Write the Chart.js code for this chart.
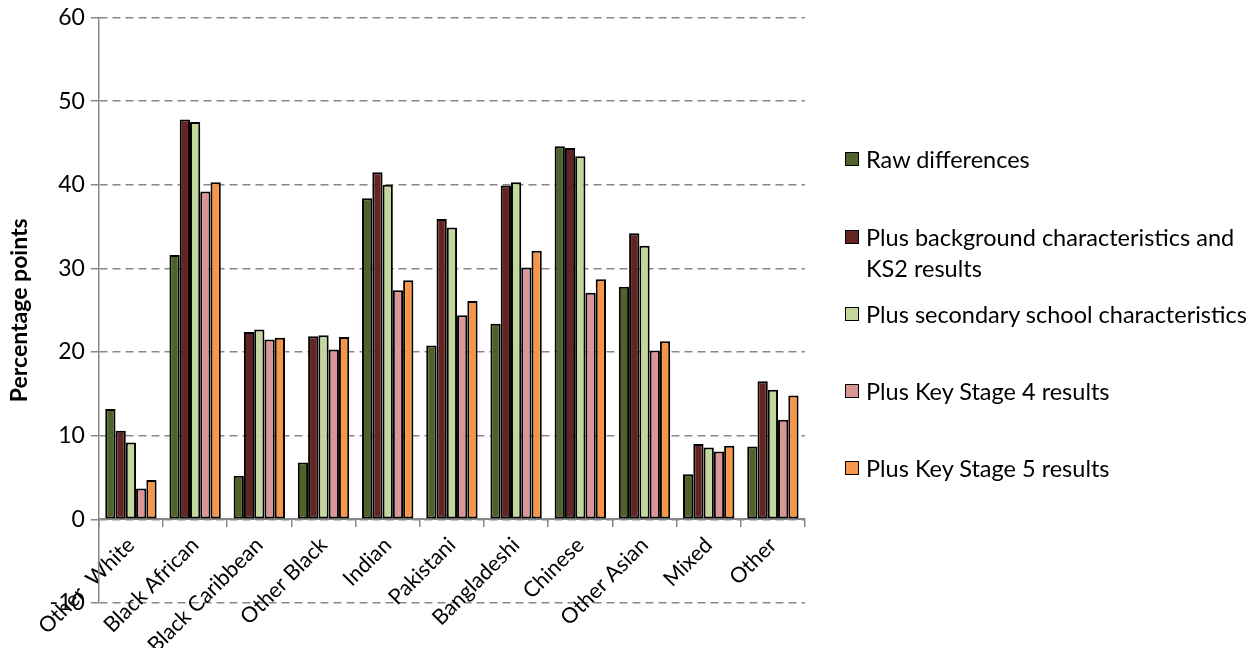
<!DOCTYPE html>
<html>
<head>
<meta charset="utf-8">
<script src="https://cdn.jsdelivr.net/npm/chart.js@4.4.1/dist/chart.umd.min.js"></script>
<style>
  body { margin: 0; background: #fff; }
  #wrap { position: relative; width: 1256px; height: 648px; }
  #legend { position: absolute; left: 845px; top: 0; font-family: Lato, sans-serif; font-size: 23.5px; color: #000; }
  .item { position: absolute; left: 0; white-space: nowrap; line-height: 31px; }
  .box { position: absolute; left: 0; width: 12px; height: 12px; border: 1.5px solid #000; }
  .txt { position: absolute; left: 21px; }
</style>
</head>
<body>
<div id="wrap">
  <canvas id="myChart" width="1256" height="648"></canvas>
  <div id="legend"></div>
</div>
<script>
const categories = ['Other  White', 'Black African', 'Black Caribbean', 'Other Black', 'Indian',
  'Pakistani', 'Bangladeshi', 'Chinese', 'Other Asian', 'Mixed', 'Other'];

const rawDifferences = [13.2, 31.6, 5.2, 6.8, 38.4, 20.8, 23.4, 44.6, 27.8, 5.4, 8.7];
const plusBackground = [10.6, 47.8, 22.4, 21.9, 41.5, 35.9, 39.9, 44.4, 34.2, 9.0, 16.5];
const plusSecondary = [9.2, 47.5, 22.7, 22.0, 40.0, 34.9, 40.3, 43.4, 32.7, 8.6, 15.5];
const plusKS4 = [3.7, 39.2, 21.5, 20.3, 27.4, 24.4, 30.1, 27.1, 20.2, 8.1, 11.9];
const plusKS5 = [4.7, 40.3, 21.7, 21.8, 28.6, 26.1, 32.1, 28.7, 21.3, 8.8, 14.8];

const seriesNames = ['Raw differences', ['Plus background characteristics and', 'KS2 results'],
  'Plus secondary school characteristics', 'Plus Key Stage 4 results', 'Plus Key Stage 5 results'];
const seriesColors = ['#4F6228', '#632523', '#C3D69B', '#D99694', '#F79646'];
const yTicks = { min: -10, max: 60, step: 10 };

const font = 'Lato, sans-serif';
const seriesData = [rawDifferences, plusBackground, plusSecondary, plusKS4, plusKS5];

const datasets = seriesData.map(function (vals, i) {
  return {
    label: Array.isArray(seriesNames[i]) ? seriesNames[i].join(' ') : seriesNames[i],
    data: vals,
    backgroundColor: seriesColors[i],
    borderColor: '#000',
    borderWidth: 2,
    borderSkipped: false,
    categoryPercentage: 0.8,
    barPercentage: 1.0
  };
});

let ctx = document.getElementById('myChart').getContext('2d');
window.myBar = new Chart(ctx, {
  type: 'bar',
  data: { labels: categories, datasets: datasets },
  options: {
    responsive: false,
    animation: false,
    layout: { padding: { top: 4, right: 451, bottom: 45, left: 6 } },
    plugins: { legend: { display: false }, tooltip: { enabled: false } },
    scales: {
      x: {
        position: { y: 0 },
        grid: { drawOnChartArea: false, drawTicks: true, tickLength: 7, color: '#878787', offset: true, lineWidth: 1.5 },
        border: { color: '#878787', width: 2 },
        ticks: { minRotation: 45, maxRotation: 45, color: '#000', font: { family: font, size: 21.5 }, padding: 6 }
      },
      y: {
        min: yTicks.min,
        max: yTicks.max,
        ticks: { stepSize: yTicks.step, color: '#000', font: { family: font, size: 23, lineHeight: 1.0 }, padding: 6 },
        grid: { color: '#878787', lineWidth: 1.5, tickLength: 8, tickBorderDash: [], tickColor: '#878787' },
        border: { color: '#878787', width: 1.5, dash: [8, 5] },
        title: { display: true, text: 'Percentage points', color: '#000', font: { family: font, size: 23, weight: 'bold' }, padding: { top: 0, bottom: 10 } }
      }
    }
  }
});

// HTML legend on the right
const legendTops = [144, 222, 299, 376, 453];
const legend = document.getElementById('legend');
seriesNames.forEach(function (name, i) {
  const item = document.createElement('div');
  item.className = 'item';
  item.style.top = legendTops[i] + 'px';
  const box = document.createElement('div');
  box.className = 'box';
  box.style.background = seriesColors[i];
  box.style.top = '8px';
  const txt = document.createElement('div');
  txt.className = 'txt';
  txt.innerHTML = (Array.isArray(name) ? name : [name]).join('<br>');
  item.appendChild(box);
  item.appendChild(txt);
  legend.appendChild(item);
});
</script>
</body>
</html>
